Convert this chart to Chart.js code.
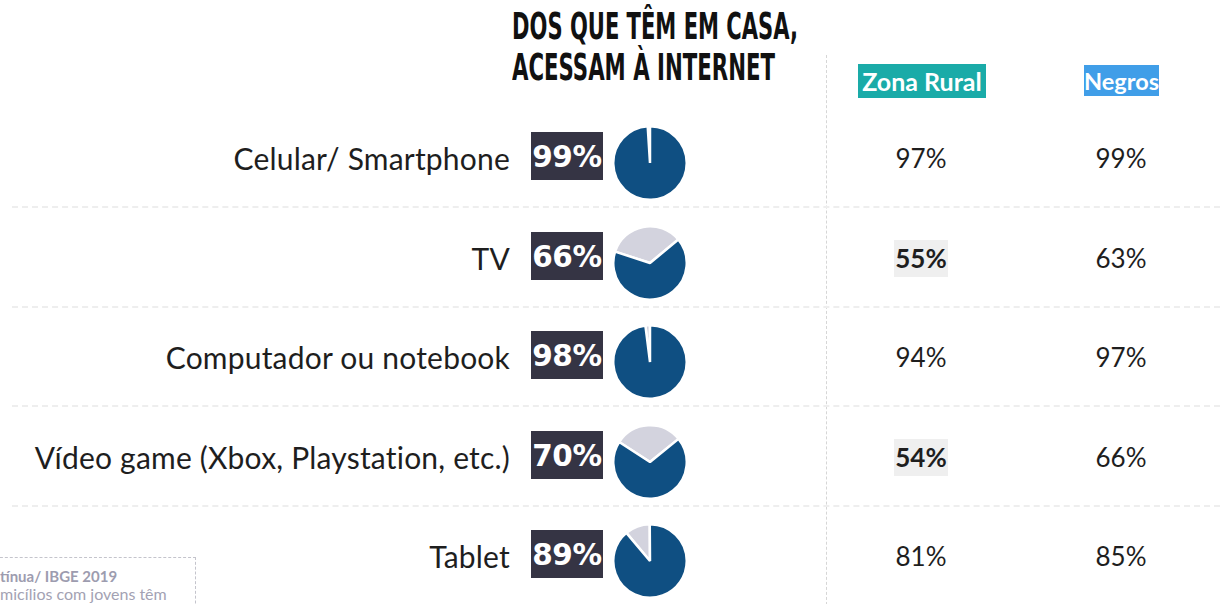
<!DOCTYPE html>
<html><head><meta charset="utf-8">
<script src="https://cdn.jsdelivr.net/npm/chart.js@4.4.0/dist/chart.umd.min.js"></script>
<style>
html,body{margin:0;padding:0;background:#fff;}
#root{position:relative;width:1220px;height:604px;overflow:hidden;font-family:Lato,"Noto Sans",sans-serif;}
.title{position:absolute;left:512px;font-family:"Liberation Sans Narrow","DejaVu Sans Condensed",sans-serif;font-weight:bold;color:#111;white-space:nowrap;transform-origin:0 0;line-height:1;}
.label{position:absolute;right:710px;font-size:30px;letter-spacing:0.2px;color:#1e1e1e;white-space:nowrap;line-height:40px;height:40px;}
.pbox{position:absolute;left:531px;width:72px;height:48px;background:#353444;color:#fff;font-family:"DejaVu Sans",sans-serif;font-weight:bold;font-size:29.5px;line-height:51px;text-align:center;letter-spacing:-0.3px;}
.pie{position:absolute;}
.val{position:absolute;width:120px;text-align:center;font-size:26px;color:#1e1e1e;line-height:36px;height:36px;}
.val span{padding:0 1px;}
.val .hl{background:#efefef;font-weight:bold;display:inline-block;line-height:37px;}
.hdr{position:absolute;color:#fff;font-weight:bold;text-align:center;white-space:nowrap;overflow:hidden;}
.sep{position:absolute;left:12px;width:1208px;height:0;border-top:2px dashed #eeeeee;}
</style></head>
<body><div id="root"></div>
<script>
// ---- data ----
const categories = ['Celular/ Smartphone','TV','Computador ou notebook','Vídeo game (Xbox, Playstation, etc.)','Tablet'];
const totalPct  = [99, 66, 98, 70, 89];
const ruralPct  = [97, 55, 94, 54, 81];
const negrosPct = [99, 63, 97, 66, 85];
const ruralHighlight = [false, true, false, true, false];
const titleLines = ['DOS QUE TÊM EM CASA,', 'ACESSAM À INTERNET'];
const colHeaders = ['Zona Rural', 'Negros'];
const sourceLines = ['tínua/ IBGE 2019', 'micílios com jovens têm'];

// ---- style ----
const pieRotation = [-3.6, -72, -7.2, -57, -40];
const rowCenter = i => 156 + i * 99.6;
const root = document.getElementById('root');
function el(tag, cls, css, txt){const e=document.createElement(tag); if(cls)e.className=cls; if(css)Object.assign(e.style,css); if(txt!=null)e.textContent=txt; root.appendChild(e); return e;}

// title
const t1 = el('div','title',{top:'8px',fontSize:'37px'},titleLines[0]);
const t2 = el('div','title',{top:'49px',fontSize:'37px'},titleLines[1]);
function fitW(e,w){const r=e.getBoundingClientRect().width; e.style.transform='scaleX('+(w/r)+')';}
fitW(t1,286); fitW(t2,263);

// vertical dashed line
el('div',null,{position:'absolute',left:'826px',top:'55px',height:'560px',width:'0',borderLeft:'1px dashed #d6d6d6'});

// headers
el('div','hdr',{left:'858px',top:'64px',width:'128px',height:'34px',lineHeight:'35px',fontSize:'25px',background:'#1aaba8'},colHeaders[0]);
el('div','hdr',{left:'1084px',top:'65px',width:'75px',height:'31px',lineHeight:'33px',fontSize:'23.5px',background:'#409ee8'},colHeaders[1]);

// separators
for(let i=0;i<categories.length-1;i++){ el('div','sep',{top:(rowCenter(i)+50)+'px'}); }

// rows
categories.forEach((c,i)=>{
  const y = rowCenter(i);
  el('div','label',{top:(y-18)+'px'},c);
  el('div','pbox',{top:(y-24)+'px'},totalPct[i]+'%');
  const cv = el('canvas','pie',{left:(650-38)+'px',top:(y+7-38)+'px',width:'76px',height:'76px'});
  cv.width=76; cv.height=76;
  new Chart(cv,{type:'pie',data:{labels:['Não','Sim'],datasets:[{data:[100-totalPct[i], totalPct[i]],backgroundColor:['#d3d3de','#0f4f82'],borderColor:'#ffffff',borderWidth:2.5}]},
    options:{responsive:false,animation:false,rotation:pieRotation[i],plugins:{legend:{display:false},tooltip:{enabled:false}},layout:{padding:0}}});
  const v1 = el('div','val',{left:(921-60)+'px',top:(y+2-18)+'px'});
  const s1 = document.createElement('span'); s1.textContent = ruralPct[i]+'%'; if(ruralHighlight[i]) s1.className='hl'; v1.appendChild(s1);
  el('div','val',{left:(1121-60)+'px',top:(y+2-18)+'px'},negrosPct[i]+'%');
});

// source box
el('div',null,{position:'absolute',left:'-10px',top:'557px',width:'205px',height:'60px',borderTop:'1px dashed #c4c4cc',borderRight:'1px dashed #c4c4cc'});
el('div',null,{position:'absolute',left:'0px',top:'566px',fontSize:'15px',fontWeight:'bold',color:'#9d9caf',whiteSpace:'nowrap',lineHeight:'20px'},sourceLines[0]);
el('div',null,{position:'absolute',left:'0px',top:'584px',fontSize:'16px',color:'#a3a2b3',whiteSpace:'nowrap',lineHeight:'20px'},sourceLines[1]);
</script>
</body></html>
